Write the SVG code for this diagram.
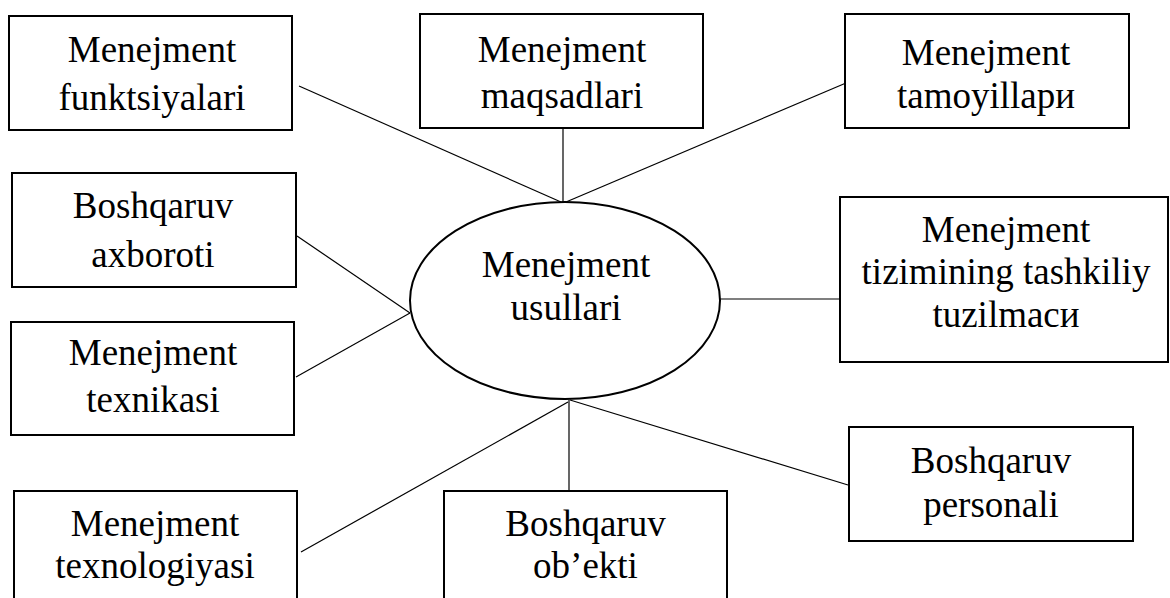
<svg xmlns="http://www.w3.org/2000/svg" width="1170" height="598" viewBox="0 0 1170 598">
<style>
.box{fill:#fff;stroke:#000;stroke-width:2}
.ell{fill:#fff;stroke:#000;stroke-width:2}
.con{stroke:#000;stroke-width:1.2;fill:none}
text{font-family:"Liberation Serif","Times New Roman",serif;font-size:37px;fill:#000;text-anchor:middle}
</style>
<rect width="1170" height="598" fill="#fff"/>
<g id="connectors">
<line class="con" x1="299" y1="86" x2="561" y2="202"/>
<line class="con" x1="563" y1="128" x2="563" y2="202"/>
<line class="con" x1="566" y1="202" x2="846" y2="83"/>
<line class="con" x1="297" y1="236" x2="410" y2="313"/>
<line class="con" x1="296" y1="377" x2="410" y2="313"/>
<line class="con" x1="720" y1="299" x2="844" y2="299"/>
<line class="con" x1="570" y1="400" x2="848" y2="485"/>
<line class="con" x1="301" y1="552" x2="568" y2="402"/>
<line class="con" x1="569" y1="400" x2="569" y2="491"/>
</g>
<g id="center">
<ellipse class="ell" cx="565" cy="300.5" rx="155" ry="98.5"/>
<text x="566" y="277">Menejment</text>
<text x="566" y="320">usullari</text>
</g>
<g id="funktsiyalari">
<rect class="box" x="9" y="16" width="283" height="114"/>
<text x="152" y="62">Menejment</text>
<text x="152" y="110">funktsiyalari</text>
</g>
<g id="maqsadlari">
<rect class="box" x="420" y="14" width="283" height="114"/>
<text x="562" y="62">Menejment</text>
<text x="562" y="108">maqsadlari</text>
</g>
<g id="tamoyillari">
<rect class="box" x="845" y="14" width="284" height="114"/>
<text x="986" y="65">Menejment</text>
<text x="986" y="108">tamoyillapи</text>
</g>
<g id="axboroti">
<rect class="box" x="12" y="173" width="284" height="114"/>
<text x="153" y="218">Boshqaruv</text>
<text x="153" y="267">axboroti</text>
</g>
<g id="texnikasi">
<rect class="box" x="11" y="322" width="283" height="113"/>
<text x="153" y="365">Menejment</text>
<text x="153" y="412">texnikasi</text>
</g>
<g id="tuzilmasi">
<rect class="box" x="840" y="197" width="328" height="165"/>
<text x="1006" y="242">Menejment</text>
<text x="1006" y="284">tizimining tashkiliy</text>
<text x="1006" y="327">tuzilmacи</text>
</g>
<g id="personali">
<rect class="box" x="849" y="427" width="284" height="114"/>
<text x="991" y="473">Boshqaruv</text>
<text x="991" y="517">personali</text>
</g>
<g id="texnologiyasi">
<rect class="box" x="14" y="491" width="283" height="125"/>
<text x="155" y="536">Menejment</text>
<text x="155" y="578">texnologiyasi</text>
</g>
<g id="obekti">
<rect class="box" x="444" y="491" width="283" height="125"/>
<text x="585.5" y="536">Boshqaruv</text>
<text x="585.5" y="578">ob’ekti</text>
</g>
</svg>
